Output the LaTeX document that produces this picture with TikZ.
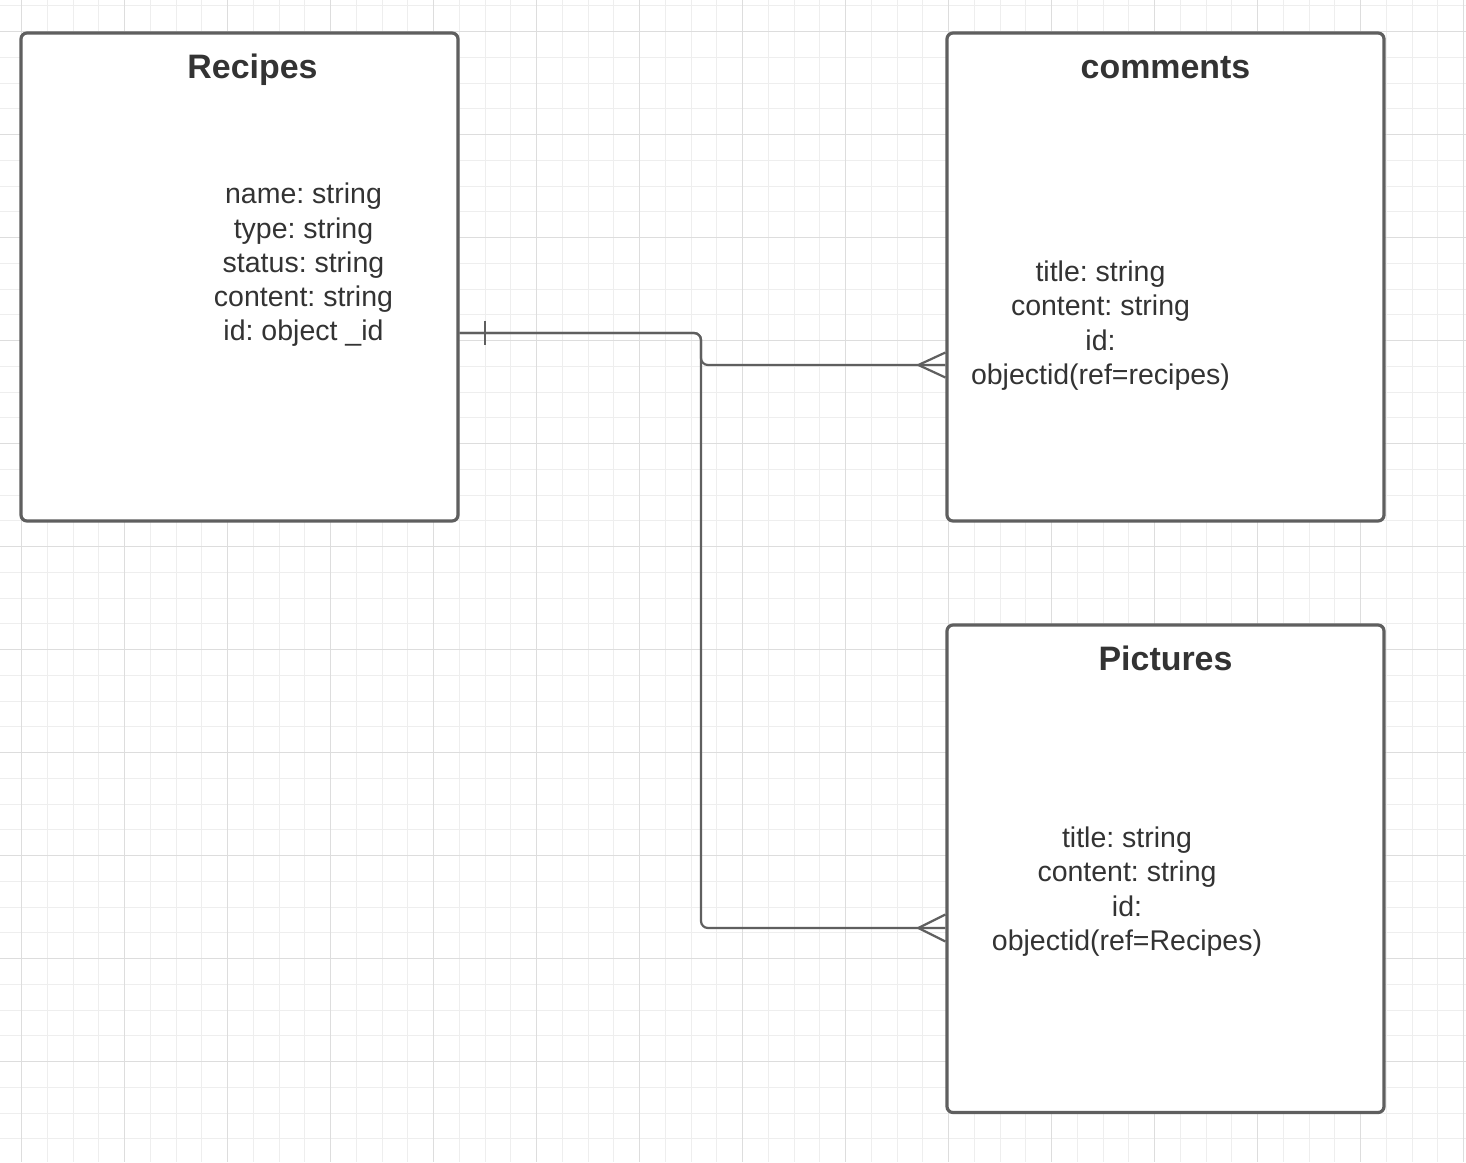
\documentclass[tikz,border=0pt]{standalone}
\usepackage{fontspec}
\setmainfont{Liberation Sans}
\usetikzlibrary{calc}
\definecolor{gridminor}{HTML}{EEEEEE}
\definecolor{gridmajor}{HTML}{DDDDDD}
\definecolor{edgegray}{HTML}{5F5F5F}
\definecolor{txt}{HTML}{333333}
\frenchspacing
\begin{document}
\begin{tikzpicture}[x=1pt,y=-1pt,
  entity/.style={draw=edgegray, line width=3.2pt, rounded corners=6pt, fill=white, minimum width=437pt, minimum height=488pt, inner sep=0pt},
  title/.style={font=\fontsize{33.9}{40}\selectfont\bfseries, text=txt, anchor=base, inner sep=0pt},
  fields/.style={font=\fontsize{28.5}{34.25}\selectfont, text=txt, align=center, inner sep=0pt},
  conn/.style={draw=edgegray, line width=2.2pt, rounded corners=7pt},
  foot/.style={draw=edgegray, line width=2.2pt}]
\fill[white] (0,0) rectangle (1466,1162);
\useasboundingbox (0,0) rectangle (1466,1162);
% grid
\foreach \i in {0,...,56} \draw[gridminor, line width=1pt] ({21.5+25.75*\i},0) -- ({21.5+25.75*\i},1162);
\foreach \j in {-1,...,43} \draw[gridminor, line width=1pt] (0,{31.5+25.75*\j}) -- (1466,{31.5+25.75*\j});
\foreach \i in {0,4,...,56} \draw[gridmajor, line width=1pt] ({21.5+25.75*\i},0) -- ({21.5+25.75*\i},1162);
\foreach \j in {0,4,...,40} \draw[gridmajor, line width=1pt] (0,{31.5+25.75*\j}) -- (1466,{31.5+25.75*\j});
% entities
\node[entity] (recipes) at (239.5,277) {};
\node[entity] (comments) at (1165.5,277) {};
\node[entity, minimum height=487.5pt] (pictures) at (1165.5,868.75) {};
% connectors
\coordinate (rout) at ($(recipes.east)+(0,56)$);
\coordinate (cin) at ($(comments.west)+(0,88)$);
\coordinate (pin) at ($(pictures.west)+(0,59.25)$);
\coordinate (bend) at (701,0);
\draw[conn] (rout) -| (bend |- cin) -- (cin);
\draw[conn] (rout) -| (bend |- pin) -- (pin);
\draw[foot] ($(rout)+(25.7,-12.3)$) -- ($(rout)+(25.7,12.3)$);
\draw[foot] ($(cin)+(-27,0)$) -- ($(cin)+(0,-12.5)$);
\draw[foot] ($(cin)+(-27,0)$) -- ($(cin)+(0,12.5)$);
\draw[foot] ($(pin)+(-27,0)$) -- ($(pin)+(0,-13.5)$);
\draw[foot] ($(pin)+(-27,0)$) -- ($(pin)+(0,13.5)$);
% texts
\node[title] (recipesT) at (252.5,78.5) {Recipes};
\node[title] (commentsT) at (1165.5,78.5) {comments};
\node[title] (picturesT) at (1165.5,670.5) {Pictures};
\node[fields] (recipesF) at (303.5,265) {name: string\\type: string\\status: string\\content: string\\id: object \_id};
\node[fields] (commentsF) at (1100.5,325.6) {title: string\\content: string\\id:\\objectid(ref=recipes)};
\node[fields] (picturesF) at (1127,891.6) {title: string\\content: string\\id:\\objectid(ref=Recipes)};
\end{tikzpicture}
\end{document}
